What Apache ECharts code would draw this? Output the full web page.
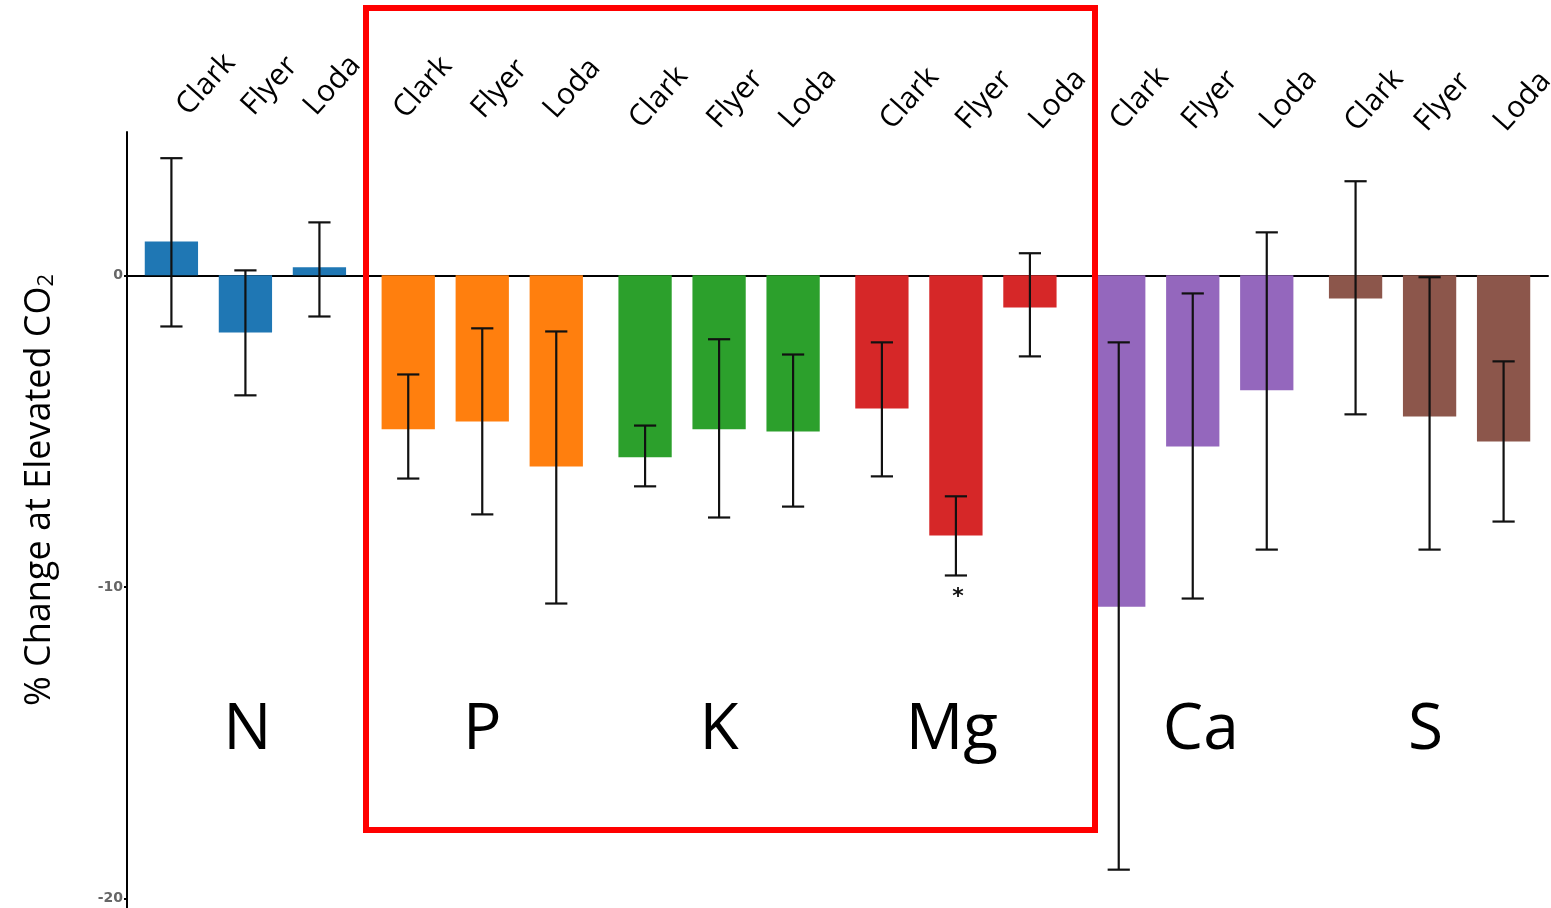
<!DOCTYPE html>
<html>
<head>
<meta charset="utf-8">
<script src="https://cdn.jsdelivr.net/npm/echarts@6/dist/echarts.min.js"></script>
<style>
html,body{margin:0;padding:0;background:#fff;}
#chart{width:1551px;height:908px;}
</style>
</head>
<body>
<div id="chart"></div>
<script>
// ---- data ----
const cultivars = ['Clark', 'Flyer', 'Loda'];
const nutrients = ['N', 'P', 'K', 'Mg', 'Ca', 'S'];
const meanChange = [
  1.09, -1.83, 0.26,
  -4.94, -4.69, -6.13,
  -5.84, -4.94, -5.01,
  -4.27, -8.35, -1.03,
  -10.63, -5.49, -3.69,
  -0.74, -4.53, -5.33
];
const errLow = [
  -1.64, -3.85, -1.32,
  -6.52, -7.67, -10.53,
  -6.77, -7.77, -7.42,
  -6.45, -9.63, -2.60,
  -19.07, -10.37, -8.80,
  -4.46, -8.80, -7.90
];
const errHigh = [
  3.76, 0.16, 1.70,
  -3.18, -1.70, -1.80,
  -4.82, -2.05, -2.54,
  -2.15, -7.09, 0.71,
  -2.15, -0.58, 1.38,
  3.02, -0.06, -2.76
];
const significance = [
  '', '', '',
  '', '', '',
  '', '', '',
  '', '*', '',
  '', '', '',
  '', '', ''
];
const yTicks = [0, -10, -20];
const yTickLabels = ['0', '-10', '-20'];

// ---- layout helpers ----
const GROUP_STEP = 3.2;
function xPos(i) { return Math.floor(i / 3) * GROUP_STEP + (i % 3); }
const palette = ['#1f77b4', '#ff7f0e', '#2ca02c', '#d62728', '#9467bd', '#8c564b'];
const labelBaseY = [121, 124, 134, 135, 135, 137];
const labelDx = [22, 13, 1, 2, 6, 4, 1, 5, 3, 15, 17, 16, 8, 6, 10, 6, 2, 7];
const groupLabelDx = [2, 0, 0, -4, 8, -4];

const barData = meanChange.map((v, i) => [xPos(i), v, errLow[i], errHigh[i], i]);
const groupData = nutrients.map((g, k) => [k * GROUP_STEP + 1, -14.6, k]);

const chart = echarts.init(document.getElementById('chart'));
const option = {
  animation: false,
  backgroundColor: '#ffffff',
  grid: { left: 127, right: 3, top: 132, bottom: 0, containLabel: false },
  xAxis: {
    type: 'value', min: -0.6, max: 18.6,
    axisLine: { show: true, onZero: true, lineStyle: { color: '#000', width: 2 } },
    axisTick: { show: false }, axisLabel: { show: false }, splitLine: { show: false }
  },
  yAxis: {
    type: 'value', min: -20.3, max: 4.6,
    axisLine: { show: true, onZero: false, lineStyle: { color: '#000', width: 2 } },
    axisTick: { show: true, length: 3, customValues: yTicks, lineStyle: { color: '#000', width: 2 } },
    axisLabel: {
      show: true, customValues: yTicks, margin: 4,
      formatter: v => yTickLabels[yTicks.indexOf(v)] !== undefined ? yTickLabels[yTicks.indexOf(v)] : '',
      color: '#666', fontSize: 14, fontWeight: 'bold', fontFamily: 'DejaVu Sans'
    },
    splitLine: { show: false }
  },
  series: [
    {
      type: 'custom',
      name: 'bars',
      data: barData,
      encode: { x: 0, y: 1 },
      clip: false,
      z: 3,
      renderItem: function (params, api) {
        const x = api.value(0), v = api.value(1), lo = api.value(2), hi = api.value(3);
        const idx = api.value(4);
        const color = palette[Math.floor(idx / 3)];
        const bw = api.size([0.72, 0])[0];
        const cw = api.size([0.3, 0])[0];
        const p0 = api.coord([x, 0]);
        const p1 = api.coord([x, v]);
        const pl = api.coord([x, lo]);
        const ph = api.coord([x, hi]);
        const children = [
          { type: 'rect', shape: { x: p0[0] - bw / 2, y: Math.min(p0[1], p1[1]), width: bw, height: Math.abs(p1[1] - p0[1]) },
            style: { fill: color } },
          { type: 'line', shape: { x1: pl[0], y1: pl[1], x2: ph[0], y2: ph[1] }, style: { stroke: '#111', lineWidth: 2.2 } },
          { type: 'line', shape: { x1: pl[0] - cw / 2, y1: pl[1], x2: pl[0] + cw / 2, y2: pl[1] }, style: { stroke: '#111', lineWidth: 2.2 } },
          { type: 'line', shape: { x1: ph[0] - cw / 2, y1: ph[1], x2: ph[0] + cw / 2, y2: ph[1] }, style: { stroke: '#111', lineWidth: 2.2 } }
        ];
        const sig = significance[idx];
        if (sig) {
          children.push({ type: 'text', x: pl[0] + 2, y: pl[1] + 22,
            style: { text: sig, fontSize: 22, fontWeight: 'bold', fill: '#111', fontFamily: 'DejaVu Sans', align: 'center', verticalAlign: 'middle' } });
        }
        return { type: 'group', children: children };
      }
    },
    {
      type: 'custom',
      name: 'cultivarLabels',
      data: barData,
      encode: { x: 0, y: 1 },
      clip: false,
      silent: true,
      z: 4,
      renderItem: function (params, api) {
        const idx = api.value(4);
        const g = Math.floor(idx / 3);
        const p = api.coord([api.value(0), 0]);
        return {
          type: 'text',
          x: p[0] + labelDx[idx],
          y: labelBaseY[g],
          rotation: 48 * Math.PI / 180,
          style: { text: cultivars[idx % 3], fontSize: 30, fontFamily: 'Open Sans', fill: '#000', align: 'left', verticalAlign: 'bottom' }
        };
      }
    },
    {
      type: 'custom',
      name: 'nutrientLabels',
      data: groupData,
      encode: { x: 0, y: 1 },
      clip: false,
      silent: true,
      z: 4,
      renderItem: function (params, api) {
        const k = api.value(2);
        const p = api.coord([api.value(0), api.value(1)]);
        return {
          type: 'text', x: p[0] + groupLabelDx[k], y: p[1],
          style: { text: nutrients[k], fontSize: 64, fontFamily: 'Open Sans', fill: '#000', align: 'center', verticalAlign: 'middle' }
        };
      }
    }
  ],
  graphic: [
    {
      type: 'rect', z: 100, silent: true,
      shape: { x: 366, y: 8, width: 729, height: 822 },
      style: { fill: 'none', stroke: '#ff0000', lineWidth: 6 }
    },
    {
      type: 'text', z: 100, silent: true,
      x: 36, y: 490, rotation: Math.PI / 2,
      style: {
        text: '{a|% Change at Elevated CO}{s|2}',
        align: 'center', verticalAlign: 'middle',
        rich: {
          a: { fontSize: 36, fontFamily: 'Open Sans', fill: '#000', lineHeight: 44, verticalAlign: 'bottom' },
          s: { fontSize: 22, fontFamily: 'Open Sans', fill: '#000', lineHeight: 16, verticalAlign: 'bottom' }
        }
      }
    }
  ]
};
chart.setOption(option);
</script>
</body>
</html>
